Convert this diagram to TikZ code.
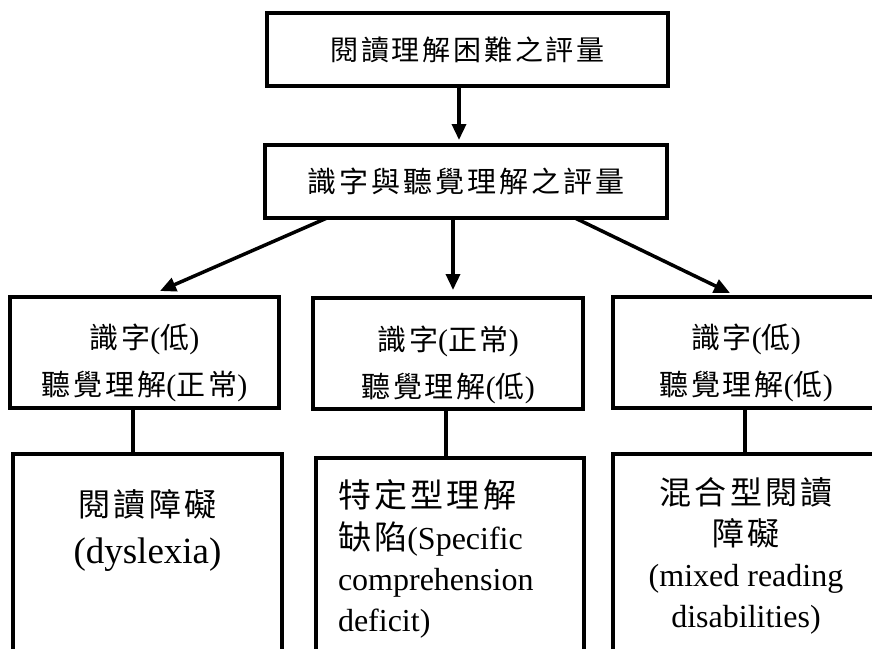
\documentclass[tikz,border=0pt]{standalone}
\usepackage{fontspec}
\setmainfont{Liberation Serif}
\newfontfamily\cjkfont[LetterSpace=10]{Noto Sans CJK TC}
% Chinese run at a given size (Latin text stays in the main font)
\newcommand\zh[2]{{\fontsize{#1}{#1}\selectfont\cjkfont #2}}
\usetikzlibrary{arrows.meta}
\tikzset{
  box/.style={draw, line width=4pt, rectangle, inner sep=0pt, outer sep=0pt, fill=white},
  boxtext/.style={inner sep=0pt, outer sep=0pt},
  arrow/.style={line width=3.5pt, -{Triangle[length=16pt,width=14pt]}},
  link/.style={line width=3.5pt},
}
\begin{document}
\begin{tikzpicture}[x=1pt, y=-1pt]
\useasboundingbox (0,0) rectangle (872,648);
\fill[white] (0,0) rectangle (872,648);
\clip (0,0) rectangle (872,648);

% top two levels
\node[box, minimum width=401pt, minimum height=73pt] (top) at (467.5,49.5)
  {\zh{28}{閱讀理解困難之評量}};
\node[box, minimum width=402pt, minimum height=73pt] (mid) at (466,181.5)
  {\zh{29}{識字與聽覺理解之評量}};

% profile boxes
\node[box, minimum width=269pt, minimum height=111pt] (r1) at (144.5,352.5) {};
\node[box, minimum width=270pt, minimum height=111pt] (r2) at (448,353.5) {};
\node[box, minimum width=266pt, minimum height=111pt] (r3) at (746,352.5) {};

\node[boxtext, anchor=north, align=center, font=\fontsize{30}{47}\selectfont]
  (p1) at ([yshift=-27pt]r1.north) {\zh{29}{識字}(\zh{29}{低})\\\zh{29}{聽覺理解}(\zh{29}{正常})};
\node[boxtext, anchor=north, align=center, font=\fontsize{30}{47}\selectfont]
  (p2) at ([yshift=-28pt]r2.north) {\zh{29}{識字}(\zh{29}{正常})\\\zh{29}{聽覺理解}(\zh{29}{低})};
\node[boxtext, anchor=north, align=center, font=\fontsize{30}{47}\selectfont]
  (p3) at ([yshift=-27pt]r3.north) {\zh{29}{識字}(\zh{29}{低})\\\zh{29}{聽覺理解}(\zh{29}{低})};

% outcome boxes (run off the bottom edge)
\node[box, minimum width=269pt, minimum height=300pt] (b1) at (147.5,604) {};
\node[box, minimum width=268pt, minimum height=300pt] (b2) at (450,608) {};
\node[box, minimum width=266pt, minimum height=300pt] (b3) at (746,604) {};

\node[boxtext, anchor=north, align=center, font=\fontsize{37}{47}\selectfont]
  (o1) at ([yshift=-35pt]b1.north) {\zh{32}{閱讀障礙}\\(dyslexia)};
\node[boxtext, anchor=north west, align=left, font=\fontsize{32}{41}\selectfont]
  (o2) at ([xshift=22pt, yshift=-22pt]b2.north west)
  {\zh{33}{特定型理解}\\[1pt]\zh{33}{缺陷}(Specific\\comprehension\\deficit)};
\node[boxtext, anchor=north, align=center, font=\fontsize{32}{41}\selectfont]
  (o3) at ([yshift=-24pt]b3.north)
  {\zh{32}{混合型閱讀}\\\zh{32}{障礙}\\(mixed reading\\disabilities)};

% arrows
\draw[arrow] ([xshift=-8.5pt]top.south) -- ([xshift=-8.5pt, yshift=5pt]top.south |- mid.north);
\draw[arrow] ([xshift=-139pt]mid.south) -- ([xshift=15.5pt, yshift=6pt]r1.north);
\draw[arrow] ([xshift=-13pt]mid.south) -- ([xshift=-13pt, yshift=8pt]mid.south |- r2.north);
\draw[arrow] ([xshift=109pt]mid.south) -- ([xshift=-16pt, yshift=4pt]r3.north);

% profile to outcome links
\draw[link] ([xshift=-11.5pt]r1.south) -- ([xshift=-11.5pt]r1.south |- b1.north);
\draw[link] ([xshift=-2pt]r2.south) -- ([xshift=-2pt]r2.south |- b2.north);
\draw[link] ([xshift=-1pt]r3.south) -- ([xshift=-1pt]r3.south |- b3.north);
\end{tikzpicture}
\end{document}
